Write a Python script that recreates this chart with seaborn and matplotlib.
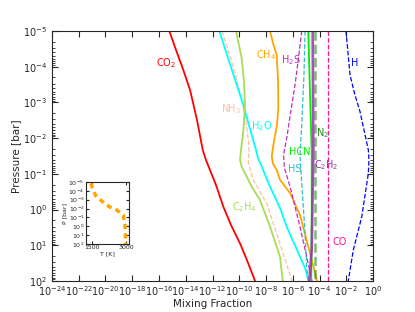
import numpy as np
import pandas as pd
import seaborn as sns
import matplotlib
matplotlib.use('Agg')
import matplotlib.pyplot as plt
from matplotlib.ticker import LogLocator, NullLocator, FixedLocator

# log10(pressure [bar]) and log10(mixing fraction)
co2_logp = [-5.0, -4.47, -3.96, -3.35, -2.51, -1.67, -1.39, -1.11, -0.69, -0.08, 0.43, 0.95, 1.42, 2.0]
co2_logx = [-15.23, -14.73, -14.23, -13.68, -13.16, -12.73, -12.49, -12.19, -11.74, -11.19, -10.62, -9.94, -9.42, -8.82]

h2o_logp = [-5.0, -3.99, -2.93, -1.67, -1.44, -1.25, -0.64, -0.04, 0.48, 1.32, 1.64, 2.0]
h2o_logx = [-11.49, -10.62, -9.70, -8.75, -8.60, -8.37, -7.70, -6.95, -6.45, -5.46, -5.08, -4.82]

c2h4_logp = [-5.0, -4.24, -3.58, -2.93, -2.18, -1.67, -1.39, -1.20, -1.02, -0.64, -0.27, 0.48, 1.32, 2.0]
c2h4_logx = [-10.24, -9.82, -9.64, -9.57, -9.70, -9.87, -9.94, -9.82, -9.57, -9.07, -8.45, -7.70, -6.95, -6.75]

nh3_logp = [-5.0, -4.47, -4.14, -3.49, -2.93, -2.37, -1.95, -1.67, -1.30, -0.83, -0.17, 0.67, 2.0]
nh3_logx = [-11.29, -10.84, -10.56, -10.09, -9.72, -9.46, -9.32, -9.27, -9.32, -8.95, -7.95, -7.20, -6.06]

ch4_logp = [-5.0, -4.61, -4.33, -3.63, -2.84, -2.37, -1.81, -1.48, -1.28, -1.11, -0.83, -0.46, 0.15, 1.22, 2.0]
ch4_logx = [-7.70, -7.44, -7.20, -7.10, -7.08, -7.18, -7.45, -7.57, -7.48, -7.20, -6.95, -6.20, -5.46, -4.71, -4.19]

h2s_logp = [-5.0, -4.24, -3.49, -2.79, -2.0, -1.53, -1.16, -0.64, 0.48, 1.32, 2.0]
h2s_logx = [-5.33, -5.57, -5.83, -6.13, -6.45, -6.69, -6.62, -6.20, -5.46, -4.96, -4.56]

hs_logp = [-5.0, -3.77, -2.37, -1.53, -0.74, 0.66, 1.60, 2.0]
hs_logx = [-5.08, -5.16, -5.33, -5.46, -5.33, -5.08, -4.96, -4.84]

hcn_logp = [-5.0, -1.53, 0.2, 2.0]
hcn_logx = [-4.84, -4.58, -4.58, -4.62]

n2_logp = [-5.0, 2.0]
n2_logx = [-4.34, -4.34]

c2h2_logp = [-5.0, -1.67, 1.1, 2.0]
c2h2_logx = [-4.51, -4.46, -4.58, -4.76]

co_logp = [-5.0, 2.0]
co_logx = [-3.34, -3.34]

h_logp = [-5.0, -3.77, -3.21, -2.74, -1.67, -1.39, -1.01, 0.20, 1.13, 2.0]
h_logx = [-2.02, -1.72, -1.35, -0.97, -0.35, -0.30, -0.35, -0.84, -1.47, -1.85]

# inset temperature profile
tp_temp = [1450, 1560, 1662, 1924, 2256, 2580, 2868, 2943, 2965, 2973]
tp_logp = [-4.85, -4.1, -3.46, -2.86, -2.22, -1.84, -1.28, -0.15, 1.0, 2.0]

species = [
    # name, logx, logp, color, dashed, lw, alpha, label (logx, logp)
    ('CO$_2$', co2_logx, co2_logp, '#ff0000', False, 1.3, 1.0, (-15.48, -4.10)),
    ('CH$_4$', ch4_logx, ch4_logp, '#ffa500', False, 1.3, 1.0, (-8.0, -4.33)),
    ('H$_2$S', h2s_logx, h2s_logp, '#c030c0', True, 0.9, 1.0, (-6.13, -4.19)),
    ('H', h_logx, h_logp, '#0000ff', True, 0.9, 1.0, (-1.35, -4.10)),
    ('NH$_3$', nh3_logx, nh3_logp, '#ffbf9f', True, 0.9, 1.0, (-10.62, -2.82)),
    ('H$_2$O', h2o_logx, h2o_logp, '#00ffff', False, 1.3, 1.0, (-8.30, -2.34)),
    ('N$_2$', n2_logx, n2_logp, '#228b22', True, 1.8, 0.6, (-3.81, -2.14)),
    ('HCN', hcn_logx, hcn_logp, '#00ee00', False, 1.3, 1.0, (-5.46, -1.61)),
    ('HS', hs_logx, hs_logp, '#30c0c8', True, 0.9, 1.0, (-5.83, -1.14)),
    ('C$_2$H$_2$', c2h2_logx, c2h2_logp, '#9932aa', False, 1.9, 0.85, (-3.51, -1.25)),
    ('C$_2$H$_4$', c2h4_logx, c2h4_logp, '#a8dc58', False, 1.3, 1.0, (-9.64, -0.07)),
    ('CO', co_logx, co_logp, '#ff1493', True, 0.9, 1.0, (-2.47, 0.91)),
]

sns.set_style('ticks')
plt.rcParams['font.family'] = ['DejaVu Sans']
plt.rcParams['xtick.direction'] = 'in'
plt.rcParams['ytick.direction'] = 'in'

fig = plt.figure(figsize=(4.15, 3.12), dpi=100)
ax = fig.add_axes([0.1253, 0.0994, 0.7735, 0.8013])

for name, lx, lp, color, dashed, lw, alpha, lab in species:
    df = pd.DataFrame({'x': 10 ** np.array(lx), 'p': 10 ** np.array(lp)})
    sns.lineplot(data=df, x='x', y='p', sort=False, estimator=None, ax=ax,
                 color=color, lw=lw, alpha=alpha,
                 linestyle='--' if dashed else '-')
    ax.text(10 ** lab[0], 10 ** lab[1], name, color=color, fontsize=7,
            ha='center', va='center')

ax.set_xscale('log')
ax.set_yscale('log')
ax.set_xlim(1e-24, 1)
ax.set_ylim(1e2, 1e-5)
ax.xaxis.set_major_locator(FixedLocator([10.0 ** k for k in range(-24, 1, 2)]))
ax.xaxis.set_minor_locator(NullLocator())
ax.yaxis.set_major_locator(LogLocator(base=10, numticks=20))
ax.yaxis.set_minor_locator(LogLocator(base=10, subs=np.arange(2, 10), numticks=20))
ax.tick_params(which='both', top=True, right=True, labelsize=7)
ax.tick_params(axis='x', pad=2)
ax.tick_params(which='major', length=4)
ax.tick_params(which='minor', length=2)
ax.set_xlabel('Mixing Fraction', fontsize=7.5, labelpad=1)
ax.set_ylabel('Pressure [bar]', fontsize=7.5, labelpad=1)

# inset: temperature-pressure profile
ins = fig.add_axes([0.2072, 0.2179, 0.1036, 0.1987])
tp = pd.DataFrame({'T': tp_temp, 'P': 10 ** np.array(tp_logp)})
sns.lineplot(data=tp, x='T', y='P', sort=False, estimator=None, ax=ins,
             color='#ffa500', lw=2.5, dashes=False)
ins.lines[0].set_dashes((1.5, 1.2))
ins.set_yscale('log')
ins.set_xlim(1240, 3120)
ins.set_ylim(1e2, 1e-5)
ins.set_xticks([1500, 3000])
ins.yaxis.set_major_locator(LogLocator(base=10, numticks=20))
ins.yaxis.set_minor_locator(NullLocator())
ins.tick_params(which='both', top=True, right=True, labelsize=4.5, length=2, pad=1)
ins.set_xlabel('T [K]', fontsize=4.5, labelpad=1)
ins.set_ylabel('P [bar]', fontsize=4.5, labelpad=1)
for s in ins.spines.values():
    s.set_linewidth(0.8)

fig.savefig('out.png', dpi=100)
